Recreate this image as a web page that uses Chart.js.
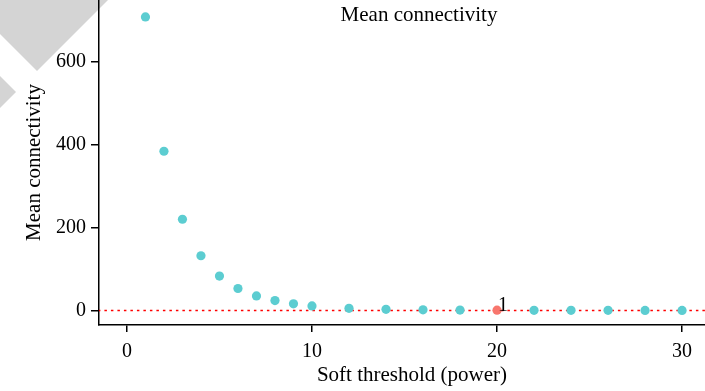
<!DOCTYPE html>
<html>
<head>
<meta charset="utf-8">
<script src="https://cdn.jsdelivr.net/npm/chart.js@4/dist/chart.umd.min.js"></script>
<style>
  html, body { margin: 0; padding: 0; background: #fff; overflow: hidden; }
  #wrap { width: 725px; height: 391px; }
</style>
</head>
<body>
<div id="wrap"><canvas id="connectivityChart" width="725" height="391"></canvas></div>
<script>
// soft threshold powers and the mean connectivity
const powers = [1, 2, 3, 4, 5, 6, 7, 8, 9, 10, 12, 14, 16, 18, 20, 22, 24, 26, 28, 30];
const meanConnectivity = [708, 384, 220, 132, 83, 53, 35, 24, 16, 11, 5.3, 2.9, 1.6, 1.0, 0.7, 0.5, 0.4, 0.3, 0.25, 0.2];
const xTicks = [0, 10, 20, 30];
const yTicks = [0, 200, 400, 600];
const cutoff = 0;
const pickedPower = 20;
const pickedLabel = "1";

const serif = "'Liberation Serif', 'DejaVu Serif', serif";

// grey watermark in the top-left corner + title inside the panel
const decor = {
  id: 'decor',
  beforeDraw(chart) {
    const ctx = chart.ctx;
    ctx.save();
    ctx.fillStyle = '#fff';
    ctx.fillRect(0, 0, chart.width, chart.height);
    ctx.fillStyle = '#d4d4d4';
    ctx.beginPath();
    ctx.moveTo(0, 0); ctx.lineTo(108, 0); ctx.lineTo(37, 71); ctx.lineTo(0, 34);
    ctx.closePath();
    ctx.fill();
    ctx.beginPath();
    ctx.moveTo(0, 76); ctx.lineTo(16, 92); ctx.lineTo(0, 108);
    ctx.closePath();
    ctx.fill();
    ctx.restore();
  },
  afterDraw(chart) {
    const ctx = chart.ctx;
    const xs = chart.scales.x, ys = chart.scales.y;
    ctx.save();
    ctx.fillStyle = '#000';
    ctx.font = '21px ' + serif;
    ctx.textAlign = 'center';
    ctx.textBaseline = 'middle';
    ctx.fillText('Mean connectivity', 419, 15);
    // label next to the picked power
    const i = powers.indexOf(pickedPower);
    ctx.font = '20px ' + serif;
    ctx.textAlign = 'left';
    ctx.textBaseline = 'alphabetic';
    ctx.fillText(pickedLabel, xs.getPixelForValue(powers[i]) + 1, ys.getPixelForValue(meanConnectivity[i]) + 1);
    ctx.restore();
  }
};

new Chart(document.getElementById('connectivityChart'), {
  type: 'scatter',
  data: {
    datasets: [
      {
        data: powers.map((p, i) => ({ x: p, y: meanConnectivity[i] })),
        backgroundColor: powers.map(p => p === pickedPower ? '#f8766d' : '#5ccdd1'),
        borderWidth: 0,
        pointRadius: 4.6,
        order: 1
      },
      {
        type: 'line',
        data: [{ x: -10, y: cutoff }, { x: 50, y: cutoff }],
        borderColor: '#ff0000',
        borderWidth: 1.4,
        borderDash: [2.5, 4],
        pointRadius: 0,
        order: 2
      }
    ]
  },
  options: {
    responsive: false,
    animation: false,
    layout: { padding: 0, autoPadding: false },
    plugins: { legend: { display: false }, tooltip: { enabled: false } },
    scales: {
      x: {
        type: 'linear',
        min: -1.51,
        max: 32.32,
        afterBuildTicks: s => { s.ticks = xTicks.map(v => ({ value: v })); },
        afterFit: s => { s.height = 66; s.paddingLeft = 0; s.paddingRight = 0; },
        grid: { drawOnChartArea: false, drawTicks: true, tickLength: 7, color: '#000', lineWidth: 1.5 },
        border: { display: true, color: '#000', width: 1.5 },
        ticks: { color: '#000', font: { family: serif, size: 20 }, padding: 8, maxRotation: 0 },
        title: { display: true, text: 'Soft threshold (power)', color: '#000', font: { family: serif, size: 21 }, padding: { top: 0, bottom: 3 } }
      },
      y: {
        type: 'linear',
        min: -35,
        max: 748.7,
        afterBuildTicks: s => { s.ticks = yTicks.map(v => ({ value: v })); },
        afterFit: s => { s.width = 99; s.paddingTop = 0; s.paddingBottom = 0; },
        grid: { drawOnChartArea: false, drawTicks: true, tickLength: 8, color: '#000', lineWidth: 1.5 },
        border: { display: true, color: '#000', width: 1.5 },
        ticks: { color: '#000', font: { family: serif, size: 20 }, padding: 5 },
        title: { display: true, text: 'Mean connectivity', color: '#000', font: { family: serif, size: 21 }, padding: { top: 22, bottom: 0 } }
      }
    }
  },
  plugins: [decor]
});
</script>
</body>
</html>
